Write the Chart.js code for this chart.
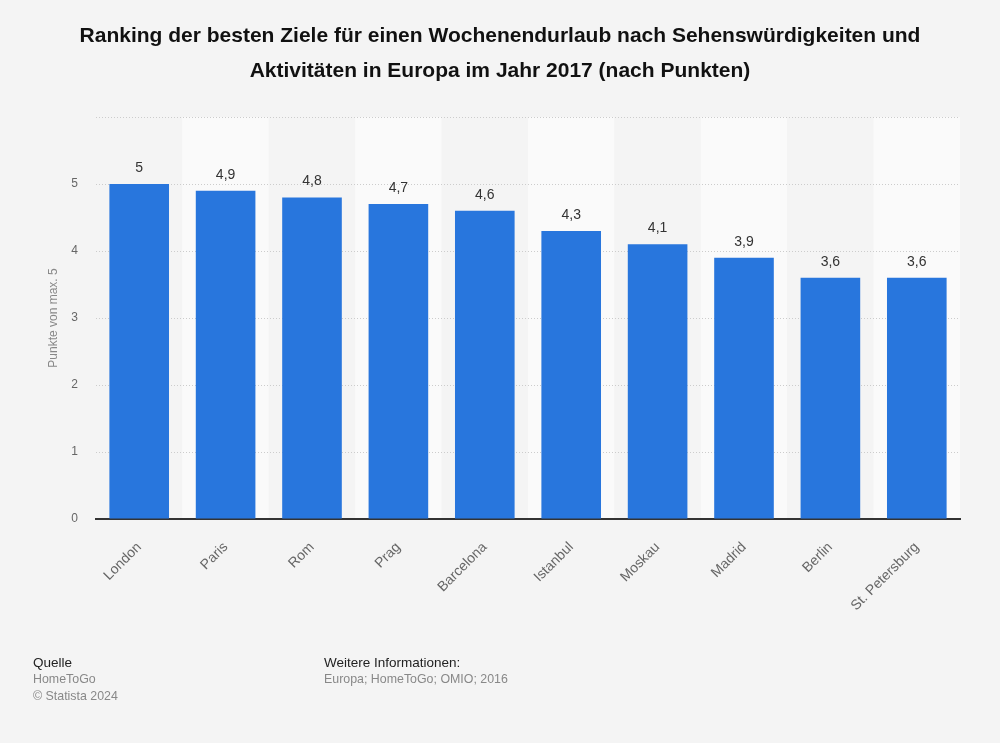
<!DOCTYPE html>
<html>
<head>
<meta charset="utf-8">
<script src="https://cdn.jsdelivr.net/npm/chart.js@4/dist/chart.umd.min.js"></script>
<style>
  html, body { margin: 0; padding: 0; background: #f4f4f4; }
  #wrap { position: relative; width: 1000px; height: 743px; font-family: "Liberation Sans", Arial, sans-serif; }
  #c { position: absolute; left: 0; top: 0; }
  #title { position: absolute; left: 0; top: 17px; width: 1000px; text-align: center; font-weight: bold; font-size: 21px; line-height: 35px; color: #111; }
  .ft { position: absolute; line-height: 17px; }
  .ft .h { color: #222; font-size: 13.5px; }
  .ft .g { color: #888; font-size: 12.4px; }
</style>
</head>
<body>
<div id="wrap">
  <canvas id="c" width="1000" height="743"></canvas>
  <div id="title">Ranking der besten Ziele für einen Wochenendurlaub nach Sehenswürdigkeiten und<br>Aktivitäten in Europa im Jahr 2017 (nach Punkten)</div>
  <div class="ft" style="left:33px; top:654px;"><div class="h">Quelle</div><div class="g">HomeToGo</div><div class="g">© Statista 2024</div></div>
  <div class="ft" style="left:324px; top:654px;"><div class="h">Weitere Informationen:</div><div class="g">Europa; HomeToGo; OMIO; 2016</div></div>
</div>
<script>
const categories = ["London", "Paris", "Rom", "Prag", "Barcelona", "Istanbul", "Moskau", "Madrid", "Berlin", "St. Petersburg"];
const points = [5, 4.9, 4.8, 4.7, 4.6, 4.3, 4.1, 3.9, 3.6, 3.6];
const yTicks = [0, 1, 2, 3, 4, 5];
const yAxisTitle = "Punkte von max. 5";

const fmt = v => String(v).replace('.', ',');

const shading = {
  id: 'shading',
  beforeDraw(chart) {
    const { ctx, chartArea, scales } = chart;
    const xs = scales.x;
    const w = (chartArea.right - chartArea.left) / categories.length;
    ctx.save();
    categories.forEach((c, i) => {
      const cx = xs.getPixelForValue(i);
      ctx.fillStyle = i % 2 === 1 ? '#fafafa' : '#f4f4f4';
      ctx.fillRect(cx - w / 2, chartArea.top, w, chartArea.bottom - chartArea.top);
    });
    ctx.restore();
  }
};

const labels = {
  id: 'valLabels',
  afterDatasetsDraw(chart) {
    const { ctx } = chart;
    const meta = chart.getDatasetMeta(0);
    ctx.save();
    ctx.font = '14px "Liberation Sans", Arial, sans-serif';
    ctx.fillStyle = '#333';
    ctx.textAlign = 'center';
    ctx.textBaseline = 'bottom';
    meta.data.forEach((bar, i) => {
      ctx.fillText(fmt(points[i]), bar.x, bar.y - 9);
    });
    ctx.restore();
  }
};

new Chart(document.getElementById('c'), {
  type: 'bar',
  data: {
    labels: categories,
    datasets: [{
      data: points,
      backgroundColor: '#2876dd',
      borderWidth: 0,
      barPercentage: 0.69,
      categoryPercentage: 1.0
    }]
  },
  options: {
    responsive: false,
    animation: false,
    devicePixelRatio: 1,
    layout: { padding: { left: 46, right: 40, top: 117, bottom: 0 } },
    plugins: { legend: { display: false }, tooltip: { enabled: false }, title: { display: false } },
    scales: {
      x: {
        afterFit(scale) { scale.height = 224; },
        grid: { display: false },
        border: { display: true, color: '#333', width: 2 },
        ticks: {
          maxRotation: 45, minRotation: 45, autoSkip: false,
          color: '#666', padding: 12,
          font: { family: '"Liberation Sans", Arial, sans-serif', size: 14 }
        }
      },
      y: {
        min: 0, max: 6,
        afterFit(scale) { scale.width = 50; },
        afterBuildTicks(scale) {
          scale.ticks = yTicks.concat([6]).map(v => ({ value: v }));
        },
        grid: { color: '#cccccc', lineWidth: 1, drawTicks: false },
        border: { display: false, dash: [1, 2] },
        title: {
          display: true, text: yAxisTitle, color: '#888',
          font: { family: '"Liberation Sans", Arial, sans-serif', size: 12 },
          padding: { top: 0, bottom: 0 }
        },
        ticks: {
          color: '#666', padding: 18,
          font: { family: '"Liberation Sans", Arial, sans-serif', size: 12 },
          callback: v => (yTicks.includes(v) ? fmt(v) : '')
        }
      }
    }
  },
  plugins: [shading, labels]
});
</script>
</body>
</html>
